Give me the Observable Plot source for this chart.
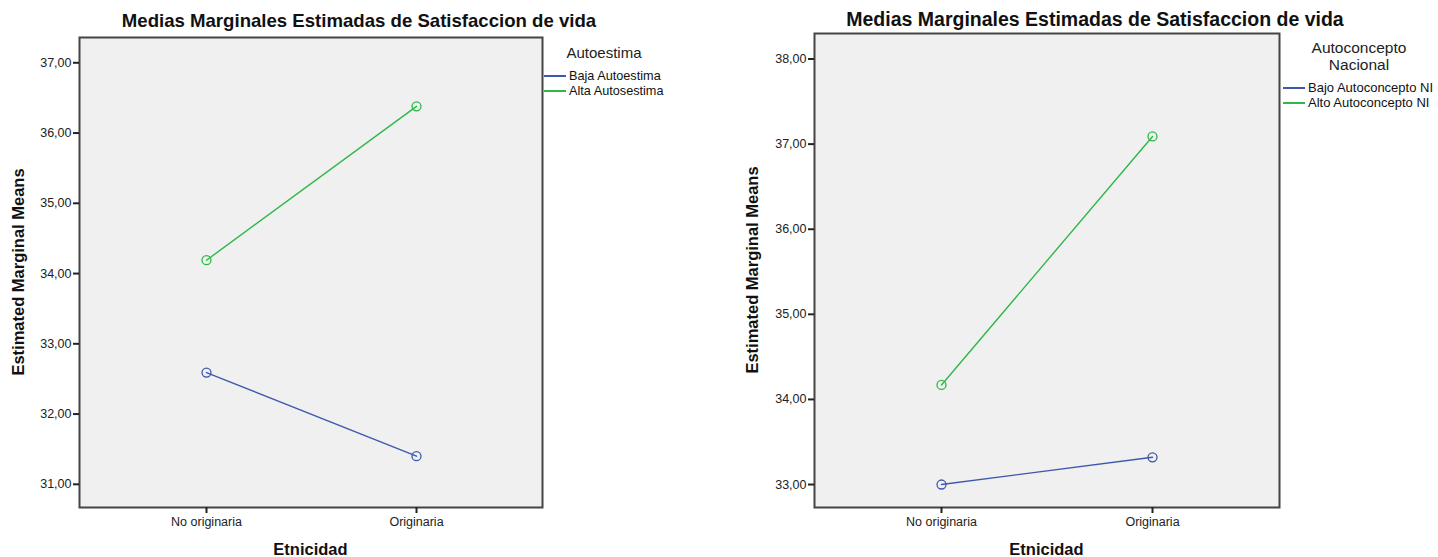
<!DOCTYPE html>
<html>
<head>
<meta charset="utf-8">
<script src="https://cdn.jsdelivr.net/npm/d3@7"></script>
<script src="https://cdn.jsdelivr.net/npm/@observablehq/plot@0.6"></script>
<style>
  html, body { margin: 0; padding: 0; background: #fff; }
  #root { position: relative; width: 1438px; height: 557px; overflow: hidden; font-family: "Liberation Sans", Arial, sans-serif; color: #111; }
  .panel { position: absolute; top: 0; }
  .title { position: absolute; font-weight: bold; white-space: nowrap; transform: translateX(-50%); color: #111; }
  .ylab { position: absolute; font-weight: bold; white-space: nowrap; transform: translate(-50%, -50%) rotate(-90deg); }
  .xlab { position: absolute; font-weight: bold; white-space: nowrap; transform: translate(-50%, -50%); }
  .legtitle { position: absolute; text-align: center; color: #222; transform: translateX(-50%); white-space: nowrap; }
  .legitem { position: absolute; white-space: nowrap; color: #111; display: flex; align-items: center; }
  .legitem span.sw { display: inline-block; width: 22px; height: 2px; margin-right: 3px; }
</style>
</head>
<body>
<div id="root"></div>
<script>
// ---- Data ----
const categories = ["No originaria", "Originaria"];
const chartTitle = "Medias Marginales Estimadas de Satisfaccion de vida";
const xLabel = "Etnicidad";
const yLabel = "Estimated Marginal Means";

// Chart 1: Autoestima
const legend1Title = ["Autoestima"];
const series1Names = ["Baja Autoestima", "Alta Autosestima"];
const baja1 = [32.59, 31.40];
const alta1 = [34.19, 36.38];
const yTicks1 = [31, 32, 33, 34, 35, 36, 37];
const yDomain1 = [30.67, 37.36];

// Chart 2: Autoconcepto Nacional
const legend2Title = ["Autoconcepto", "Nacional"];
const series2Names = ["Bajo Autoconcepto NI", "Alto Autoconcepto NI"];
const bajo2 = [33.00, 33.32];
const alto2 = [34.17, 37.09];
const yTicks2 = [33, 34, 35, 36, 37, 38];
const yDomain2 = [32.73, 38.30];

const colors = ["#3e58ac", "#2eb848"];

const fmt = d => d.toFixed(2).replace(".", ",");
const root = document.getElementById("root");

function el(cls, text, style) {
  const d = document.createElement("div");
  d.className = cls;
  if (text != null) d.textContent = text;
  Object.assign(d.style, style);
  root.appendChild(d);
  return d;
}

function makeChart(cfg) {
  const rows = [];
  cfg.seriesNames.forEach((name, i) => {
    cfg.values[i].forEach((v, j) => rows.push({series: name, cat: categories[j], value: v}));
  });
  const W = cfg.width, H = 557;
  const plot = Plot.plot({
    width: W,
    height: H,
    marginLeft: cfg.ml,
    marginRight: cfg.mr,
    marginTop: cfg.mt,
    marginBottom: cfg.mb,
    style: {background: "transparent", fontFamily: "'Liberation Sans', Arial, sans-serif", fontSize: "11px", color: "#222"},
    x: {type: "point", domain: categories, padding: 0.6},
    y: {domain: cfg.yDomain},
    color: {domain: cfg.seriesNames, range: colors},
    marks: [
      Plot.frame({fill: "#f0f0f0", stroke: null}),
      Plot.line(rows, {x: "cat", y: "value", z: "series", stroke: "series", strokeWidth: 1.4}),
      Plot.dot(rows, {x: "cat", y: "value", stroke: "series", r: 4.5, strokeWidth: 1.3, fill: "none"}),
      Plot.frame({stroke: "#444", strokeWidth: 2}),
      Plot.axisY({ticks: cfg.yTicks, tickFormat: fmt, tickSize: 6, tickPadding: 2, label: null, fontSize: 12.5, stroke: "#222", strokeWidth: 2}),
      Plot.axisX({tickSize: 6, tickPadding: 4, label: null, fontSize: 12.5, stroke: "#222", strokeWidth: 2})
    ]
  });
  const wrap = document.createElement("div");
  wrap.className = "panel";
  wrap.style.left = cfg.left + "px";
  wrap.appendChild(plot);
  root.appendChild(wrap);

  const fx0 = cfg.left + cfg.ml, fx1 = cfg.left + W - cfg.mr;
  const fy0 = cfg.mt, fy1 = H - cfg.mb;
  el("title", chartTitle, {left: cfg.titleX + "px", top: cfg.titleY + "px", fontSize: cfg.titleSize + "px"});
  el("ylab", yLabel, {left: cfg.ylabX + "px", top: ((fy0 + fy1) / 2) + "px", fontSize: cfg.labSize + "px"});
  el("xlab", xLabel, {left: ((fx0 + fx1) / 2) + "px", top: "549px", fontSize: cfg.labSize + "px"});
  const lt = el("legtitle", null, {left: cfg.legTitleX + "px", top: cfg.legTitleY + "px", fontSize: cfg.legTitleSize + "px", lineHeight: (cfg.legTitleSize + 1) + "px"});
  cfg.legTitle.forEach((t, i) => {
    const s = document.createElement("div");
    s.textContent = t;
    lt.appendChild(s);
  });
  cfg.seriesNames.forEach((name, i) => {
    const it = el("legitem", null, {left: cfg.legItemX + "px", top: (cfg.legItemY + i * 15) + "px", fontSize: cfg.legSize + "px"});
    const sw = document.createElement("span");
    sw.className = "sw";
    sw.style.background = colors[i];
    it.appendChild(sw);
    const t = document.createElement("span");
    t.textContent = name;
    it.appendChild(t);
  });
}

makeChart({
  left: 0, width: 719, ml: 79, mr: 177, mt: 37, mb: 50,
  seriesNames: series1Names, values: [baja1, alta1],
  yTicks: yTicks1, yDomain: yDomain1,
  titleX: 359, titleY: 10, titleSize: 18.6, labSize: 16.5,
  ylabX: 18,
  legTitle: legend1Title, legTitleX: 604, legTitleY: 45, legTitleSize: 15,
  legItemX: 544, legItemY: 69, legSize: 12.7
});

makeChart({
  left: 719, width: 719, ml: 95, mr: 159, mt: 33, mb: 50,
  seriesNames: series2Names, values: [bajo2, alto2],
  yTicks: yTicks2, yDomain: yDomain2,
  titleX: 1095, titleY: 8, titleSize: 19.5, labSize: 16.5,
  ylabX: 752,
  legTitle: legend2Title, legTitleX: 1359, legTitleY: 40, legTitleSize: 15.5,
  legItemX: 1283, legItemY: 80, legSize: 13
});
</script>
</body>
</html>
